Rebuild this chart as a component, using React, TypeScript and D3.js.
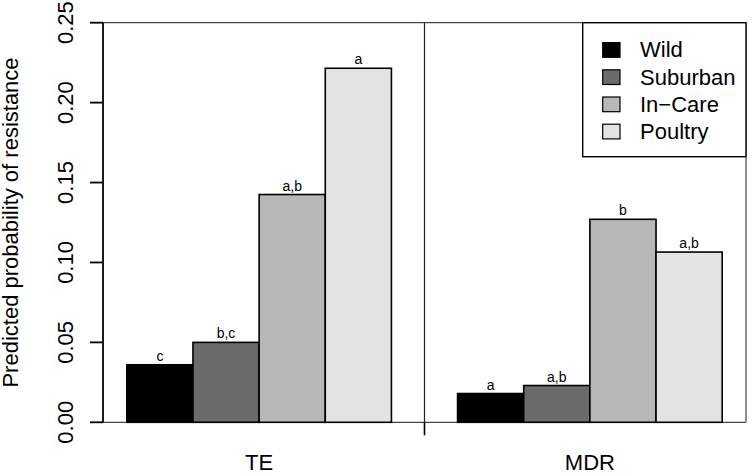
import React from "react";
import * as d3 from "d3";

const groups = ["TE", "MDR"];
const seriesNames = ["Wild", "Suburban", "In\u2212Care", "Poultry"];
const seriesColors = ["#000000", "#6b6b6b", "#b7b7b7", "#e3e3e3"];
const teValues = [0.036, 0.050, 0.1425, 0.2215];
const mdrValues = [0.018, 0.023, 0.127, 0.1065];
const teLetters = ["c", "b,c", "a,b", "a"];
const mdrLetters = ["a", "a,b", "b", "a,b"];
const yTicks = [0, 0.05, 0.1, 0.15, 0.2, 0.25];

const FONT = "'Liberation Sans', Arial, Helvetica, sans-serif";

export default function App() {
  const W = 750, H = 473;
  const left = 103, right = 746, top = 22.7, bottom = 422.3;
  const x = d3.scaleLinear().domain([0.64, 10.36]).range([left, right]);
  const y = d3.scaleLinear().domain([0, 0.25]).range([bottom, top]);
  const values = [teValues, mdrValues];
  const letters = [teLetters, mdrLetters];

  const bars: any[] = [];
  values.forEach((vals, g) => {
    vals.forEach((v, i) => {
      const u = 1 + g * 5 + i;
      const x0 = x(u), x1 = x(u + 1);
      bars.push(
        <g key={`b${g}-${i}`}>
          <rect x={x0} y={y(v)} width={x1 - x0} height={y(0) - y(v)}
            fill={seriesColors[i]} stroke="#000" strokeWidth={1.6} />
          <text x={(x0 + x1) / 2} y={y(v) - 4} textAnchor="middle"
            fontSize={14} fontFamily={FONT} fill="#000">{letters[g][i]}</text>
        </g>
      );
    });
  });

  const fmt = d3.format(".2f");
  const divX = x(5.5);

  return (
    <svg width={W} height={H} style={{ position: "absolute", left: 0, top: 0, background: "#fff" }}>
      <rect x={0} y={0} width={W} height={H} fill="#fff" />
      {/* box lines */}
      <line x1={left} y1={top} x2={right} y2={top} stroke="#444" strokeWidth={1.2} />
      <line x1={right} y1={top} x2={right} y2={bottom} stroke="#444" strokeWidth={1.2} />
      <line x1={left} y1={bottom} x2={right} y2={bottom} stroke="#444" strokeWidth={1.2} />
      <line x1={divX} y1={top} x2={divX} y2={bottom} stroke="#222" strokeWidth={1.2} />
      {bars}
      {/* y axis */}
      <line x1={left} y1={y(0)} x2={left} y2={y(0.25)} stroke="#000" strokeWidth={1.8} />
      {yTicks.map((t) => (
        <g key={`t${t}`}>
          <line x1={left - 13} x2={left} y1={y(t)} y2={y(t)} stroke="#000" strokeWidth={1.8} />
          <text transform={`translate(73,${y(t)}) rotate(-90)`} textAnchor="middle"
            fontSize={22} fontFamily={FONT} fill="#000">{fmt(t)}</text>
        </g>
      ))}
      <text transform={`translate(18,${(top + bottom) / 2}) rotate(-90)`} textAnchor="middle"
        fontSize={22} fontFamily={FONT} fill="#000">Predicted probability of resistance</text>
      {/* x axis tick and labels */}
      <line x1={divX} x2={divX} y1={bottom} y2={bottom + 13} stroke="#000" strokeWidth={1.6} />
      {groups.map((gname, g) => (
        <text key={gname} x={(x(1 + g * 5) + x(5 + g * 5)) / 2} y={469.5} textAnchor="middle"
          fontSize={22} fontFamily={FONT} fill="#000">{gname}</text>
      ))}
      {/* legend */}
      <rect x={582.7} y={top} width={right - 582.7} height={156.7 - top} fill="#fff" stroke="#000" strokeWidth={1.4} />
      {seriesNames.map((s, i) => {
        const base = 57.3 + i * 27.2;
        return (
          <g key={s}>
            <rect x={602.7} y={base - 14.7} width={17.3} height={14.7} fill={seriesColors[i]} stroke="#000" strokeWidth={1.2} />
            <text x={640} y={base} fontSize={22} fontFamily={FONT} fill="#000">{s}</text>
          </g>
        );
      })}
    </svg>
  );
}
